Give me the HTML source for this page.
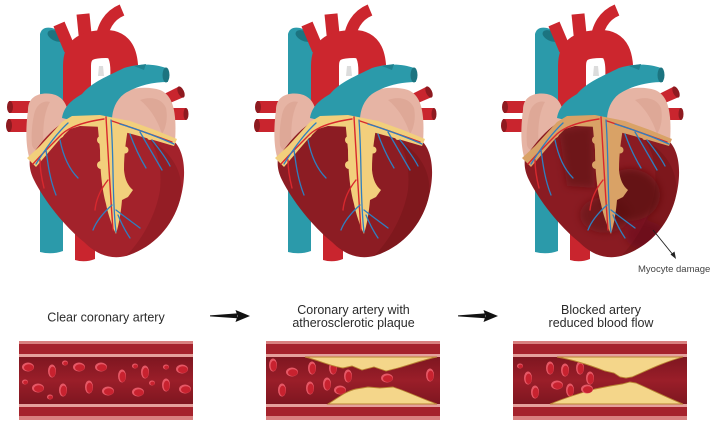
<!DOCTYPE html>
<html>
<head>
<meta charset="utf-8">
<style>
  html,body{margin:0;padding:0;background:#fff;}
  svg{display:block;}
  .lbl{font-family:"Liberation Sans","Noto Sans CJK KR",sans-serif;font-size:12.5px;fill:#2a2a2a;}
</style>
</head>
<body>
<svg width="716" height="430" viewBox="0 0 716 430" xmlns="http://www.w3.org/2000/svg">
<defs>
  <filter id="blur4" x="-50%" y="-50%" width="200%" height="200%"><feGaussianBlur stdDeviation="4"/></filter>
  <linearGradient id="lumen" x1="0" y1="0" x2="0" y2="1">
    <stop offset="0" stop-color="#7e1620"/>
    <stop offset="0.5" stop-color="#9a1e29"/>
    <stop offset="1" stop-color="#7e1620"/>
  </linearGradient>

  <!-- heart back parts -->
  <g id="hb">
    <path d="M40 150 L63 150 L63 251 Q52 255 40 252 Z" fill="#2b9aaa"/>
    <path d="M75 222 L95 222 L95 259 Q85 263 75 260 Z" fill="#c9252e"/>
    <rect x="9" y="101" width="32" height="12" fill="#c9252e"/>
    <ellipse cx="10" cy="107" rx="3" ry="6" fill="#8e1a20"/>
    <rect x="8" y="119" width="30" height="13" fill="#c9252e"/>
    <ellipse cx="9" cy="125.5" rx="3" ry="6.5" fill="#8e1a20"/>
    <path d="M158 97 L178 87 L184 97 L163 106 Z" fill="#c9252e"/>
    <ellipse cx="181" cy="92" rx="3" ry="6" transform="rotate(-25 181 92)" fill="#8e1a20"/>
    <rect x="163" y="108" width="23" height="12" fill="#c9252e"/>
    <ellipse cx="186" cy="114" rx="2.5" ry="6" fill="#8e1a20"/>
    <path d="M40 34 Q42 26 52 28 Q66 32 68 42 L64 160 L40 160 Z" fill="#2b9aaa"/>
    <ellipse cx="56" cy="36" rx="9" ry="5" transform="rotate(25 56 36)" fill="#1c7480"/>
    <path d="M70 50 L59 24" stroke="#cc262e" stroke-width="12" fill="none"/>
    <path d="M86 44 L83 14" stroke="#cc262e" stroke-width="13" fill="none"/>
    <path d="M101 44 C102 26 110 15 122 10" stroke="#cc262e" stroke-width="12" fill="none"/>
    <path d="M77 122 L77 66 C77 46 92 44 106 44 C120 44 126 54 124 82" stroke="#cc262e" stroke-width="28" fill="none"/>
    <path d="M99 66 L103 66 L104 76 L98 76 Z" fill="#dcdcdc"/>
    <path d="M28 110 C28 96 40 92 52 94 C62 96 68 104 68 116 L66 160 C55 166 40 166 30 160 C25 145 26 125 28 110 Z" fill="#e6b4a4"/>
    <path d="M34 115 C36 104 44 100 50 102 C44 112 42 130 44 150 C38 152 33 150 32 145 C31 135 32 124 34 115 Z" fill="#d9a090" opacity="0.6"/>
    <path d="M110 102 C120 88 145 85 160 90 C173 95 177 112 175 142 L112 140 Z" fill="#e6b4a4"/>
    <path d="M140 100 C150 96 162 98 166 108 C168 118 166 128 162 134 C158 122 152 110 140 100 Z" fill="#d9a090" opacity="0.6"/>
    <path d="M62 118 C64 106 72 100 82 94 C92 82 108 76 124 68 C140 63 155 64 166 68 L168 82 C152 82 136 86 124 94 C116 100 112 110 112 120 C96 122 78 122 62 118 Z" fill="#2b9aaa"/>
    <ellipse cx="166" cy="75" rx="3.5" ry="7.5" fill="#1c7480"/>
    <path d="M134 66 L146 64 L144 70 Z" fill="#1f8290"/>
  </g>

  <path id="vent" d="M30 158 C42 140 55 126 68 120 C85 116 100 116 112 118 C135 122 158 131 174 141 C185 152 187 175 180 200 C172 228 152 248 126 256 C110 260 96 254 84 242 C64 226 44 200 34 180 C30 172 29 165 30 158 Z"/>
  <path id="ventshade" d="M150 140 C172 152 186 175 180 200 C172 228 152 248 126 256 C142 240 156 215 160 190 C162 168 158 152 150 140 Z"/>

  <g id="fat">
    <path d="M27 158 L40 146 L52 133 L62 122 L72 116 L100 115 L130 121 L155 130 L177 139 L174 146 L150 139 L128 133 L104 127 L80 126 L70 129 L60 139 L48 153 L36 167 Z"/>
    <path d="M97 118 L129 122 C127 135 124 150 124 170 C125 180 128 186 133 190 L128 197 L122 200 C121 212 119 224 116 234 C112 226 108 214 106 204 C102 190 100 170 100 150 Z"/>
    <circle cx="101" cy="140" r="4"/><circle cx="101" cy="165" r="4"/><circle cx="125" cy="150" r="3.5"/>
    <circle cx="45" cy="150" r="4"/><circle cx="60" cy="134" r="4"/><circle cx="150" cy="137" r="3"/>
  </g>

  <g id="hv" fill="none" stroke-linecap="round">
    <g stroke="#d8282e" stroke-width="1.4">
      <path d="M106 117 C108 150 110 190 113 230"/>
      <path d="M104 119 C90 121 72 125 62 134 C52 144 42 154 33 164"/>
      <path d="M112 121 C130 127 150 134 172 142"/>
      <path d="M108 180 C100 190 96 200 95 210"/>
      <path d="M40 160 C40 170 42 180 44 188"/>
    </g>
    <g stroke="#2f7fc0" stroke-width="1.3">
      <path d="M111 120 C114 160 112 200 116 232"/>
      <path d="M68 123 C56 134 46 148 36 164"/>
      <path d="M120 124 C140 130 158 137 174 144"/>
      <path d="M140 132 C148 146 155 158 162 170"/>
      <path d="M130 134 C135 148 140 158 146 168"/>
      <path d="M152 140 C160 150 166 158 170 166"/>
      <path d="M46 150 C48 165 50 180 56 195"/>
      <path d="M60 140 C63 155 68 168 78 178"/>
      <path d="M112 205 C102 214 96 222 93 230"/>
      <path d="M116 210 C125 217 132 222 140 228"/>
      <path d="M118 215 C122 225 126 232 130 238"/>
    </g>
  </g>

  <g id="cell">
    <ellipse cx="0" cy="0" rx="6" ry="4.5" fill="#e65866"/>
    <ellipse cx="0.8" cy="0.6" rx="4.8" ry="3.4" fill="#c8222f"/>
  </g>
  <g id="cellv">
    <ellipse cx="0" cy="0" rx="4" ry="6.5" fill="#e65866"/>
    <ellipse cx="0.6" cy="0.8" rx="3" ry="5.2" fill="#c8222f"/>
  </g>
  <g id="cells">
    <ellipse cx="0" cy="0" rx="3" ry="2.5" fill="#e65866"/>
    <ellipse cx="0.5" cy="0.4" rx="2.2" ry="1.8" fill="#c8222f"/>
  </g>

  <g id="art">
    <rect x="0" y="341" width="174" height="79" fill="#d9807f"/>
    <rect x="0" y="344" width="174" height="10" fill="#a5222c"/>
    <rect x="0" y="354" width="174" height="3" fill="#e5a09c"/>
    <rect x="0" y="357" width="174" height="47" fill="url(#lumen)"/>
    <rect x="0" y="404" width="174" height="3" fill="#e5a09c"/>
    <rect x="0" y="407" width="174" height="9" fill="#a5222c"/>
  </g>
</defs>

<rect width="716" height="430" fill="#fff"/>

<g transform="translate(0,0)">
  <use href="#hb"/>
  <use href="#vent" fill="#a3222b"/>
  <use href="#ventshade" fill="#8a1a22" opacity="0.6"/>
  <use href="#fat" fill="#f2cf7c"/>
  <use href="#hv"/>
</g>

<g transform="translate(248,0)">
  <use href="#hb"/>
  <use href="#vent" fill="#8c1c23"/>
  <use href="#ventshade" fill="#761619" opacity="0.6"/>
  <use href="#fat" fill="#f2cf7c"/>
  <use href="#hv"/>
</g>

<g transform="translate(495,0)">
  <use href="#hb"/>
  <use href="#vent" fill="#8a1b22"/>
  <use href="#ventshade" fill="#741519" opacity="0.6"/>
  <clipPath id="vclip"><use href="#vent"/></clipPath>
  <g clip-path="url(#vclip)">
    <g filter="url(#blur4)" fill="#5a0f14">
      <ellipse cx="135" cy="195" rx="30" ry="26" opacity="0.75"/>
      <path d="M64 130 L98 124 L100 188 L72 186 Z" opacity="0.6"/>
      <ellipse cx="110" cy="215" rx="25" ry="18" opacity="0.5"/>
      <ellipse cx="150" cy="235" rx="20" ry="14" opacity="0.4"/>
    </g>
  </g>
  <use href="#fat" fill="#d9a266"/>
  <use href="#hv"/>
</g>

<line x1="653" y1="230" x2="674" y2="256" stroke="#222" stroke-width="0.9"/>
<polygon points="676,259 670.5,254.5 674.5,251.5" fill="#222"/>
<text x="638" y="272" style="font-family:'Liberation Sans',sans-serif;font-size:9.5px;fill:#444;">Myocyte damage</text>

<text class="lbl" x="106" y="321.5" text-anchor="middle">Clear coronary artery</text>
<text class="lbl" x="353.5" y="314" text-anchor="middle">Coronary artery with</text>
<text class="lbl" x="353.5" y="327" text-anchor="middle">atherosclerotic plaque</text>
<text class="lbl" x="601" y="314" text-anchor="middle">Blocked artery</text>
<text class="lbl" x="601" y="327" text-anchor="middle">reduced blood flow</text>

<g fill="#111">
  <polygon points="210,315.4 237,313.4 237,318.2 210,316.4"/>
  <polygon points="235.5,310 250,316 235.5,322 237.5,316"/>
</g>
<g fill="#111" transform="translate(248,0)">
  <polygon points="210,315.4 237,313.4 237,318.2 210,316.4"/>
  <polygon points="235.5,310 250,316 235.5,322 237.5,316"/>
</g>

<g transform="translate(19,0)"><use href="#art"/></g>
<g>
  <use href="#cell" x="28" y="367"/>
  <use href="#cellv" x="52" y="371"/>
  <use href="#cells" x="65" y="363"/>
  <use href="#cell" x="79" y="367"/>
  <use href="#cell" x="101" y="367"/>
  <use href="#cellv" x="122" y="376"/>
  <use href="#cells" x="135" y="366"/>
  <use href="#cellv" x="145" y="372"/>
  <use href="#cells" x="166" y="367"/>
  <use href="#cell" x="182" y="369"/>
  <use href="#cells" x="25" y="382"/>
  <use href="#cell" x="38" y="388"/>
  <use href="#cells" x="50" y="397"/>
  <use href="#cellv" x="63" y="390"/>
  <use href="#cellv" x="89" y="387"/>
  <use href="#cell" x="108" y="391"/>
  <use href="#cell" x="138" y="392"/>
  <use href="#cells" x="152" y="383"/>
  <use href="#cellv" x="166" y="385"/>
  <use href="#cell" x="185" y="389"/>
</g>

<g transform="translate(266,0)"><use href="#art"/></g>
<g>
  <use href="#cellv" x="273" y="365"/>
  <use href="#cell" x="292" y="372"/>
  <use href="#cellv" x="312" y="368"/>
  <use href="#cellv" x="333" y="368"/>
  <use href="#cellv" x="282" y="390"/>
  <use href="#cellv" x="310" y="388"/>
  <use href="#cellv" x="327" y="384"/>
  <use href="#cell" x="340" y="390"/>
</g>
<g stroke="#b98232" stroke-width="0.9" fill="#f4d68a">
  <path d="M305 357 C318 360 330 366 343 368 L352 366 L362 370 L374 367 L386 371 L398 368 C412 364 426 359 437 357 Z"/>
  <path d="M328 404 C338 398 346 391 356 389 L368 387 L380 388 L393 387 C406 391 420 398 437 404 Z"/>
</g>
<g>
  <use href="#cellv" x="348" y="376"/>
  <use href="#cell" x="387" y="378"/>
  <use href="#cellv" x="430" y="375"/>
</g>

<g transform="translate(513,0)"><use href="#art"/></g>
<g>
  <use href="#cells" x="520" y="366"/>
  <use href="#cellv" x="528" y="378"/>
  <use href="#cellv" x="550" y="368"/>
  <use href="#cellv" x="565" y="370"/>
  <use href="#cellv" x="580" y="368"/>
  <use href="#cell" x="557" y="385"/>
  <use href="#cellv" x="535" y="392"/>
  <use href="#cellv" x="570" y="390"/>
</g>
<g stroke="#b98232" stroke-width="0.9" fill="#f4d68a">
  <path d="M557 357 C575 360 592 366 605 371 L614 373 L620 377 L626 378 L632 377 C648 370 664 362 683 357 Z"/>
  <path d="M550 404 C565 398 580 393 595 389 L610 386 L622 384 L630 382 L636 383 C652 390 668 398 683 404 Z"/>
</g>
<g>
  <use href="#cellv" x="590" y="378"/>
  <use href="#cell" x="587" y="389"/>
</g>
</svg>
</body>
</html>
